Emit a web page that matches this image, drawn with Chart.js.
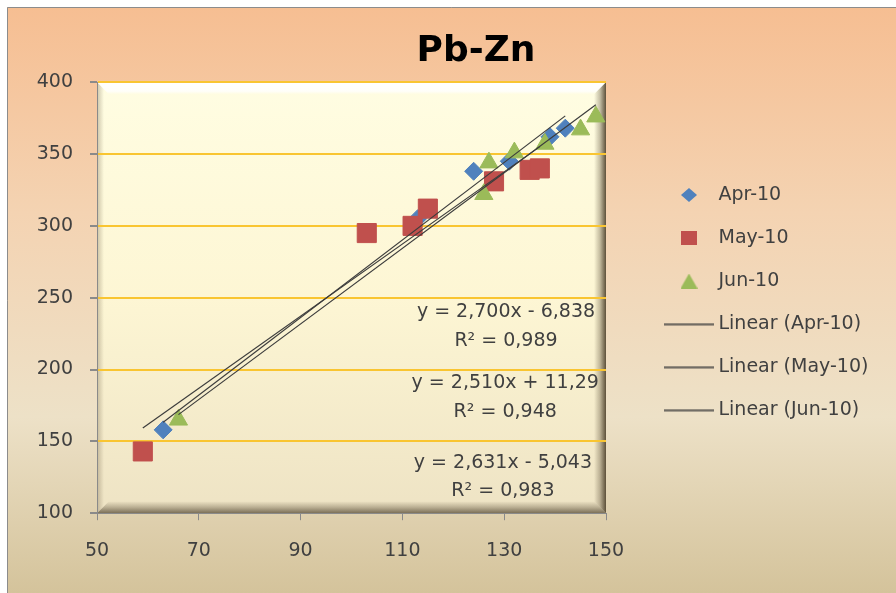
<!DOCTYPE html>
<html>
<head>
<meta charset="utf-8">
<title>Pb-Zn</title>
<script src="https://cdn.jsdelivr.net/npm/chart.js@4.4.1/dist/chart.umd.min.js"></script>
<style>
  html, body { margin: 0; padding: 0; background: #fff; }
  canvas { display: block; }
</style>
</head>
<body>
<canvas id="grafico" width="896" height="593"></canvas>
<script>
// valores
const aprX = [63, 113, 124, 131, 139, 142];
const aprY = [158, 305, 338, 345, 362, 368];
const mayX = [59, 103, 112, 115, 128, 135, 137];
const mayY = [143, 295, 300, 312, 331, 339, 340];
const junX = [66, 126, 127, 132, 138, 145, 148];
const junY = [165, 322, 344, 351, 357, 367, 376];

const seriesLabels = ['Apr-10', 'May-10', 'Jun-10'];

// lineas de tendencia, tal como las da la figura
const trendSlope = [2.700, 2.510, 2.631];
const trendIntercept = [-6.838, 11.29, -5.043];
const trendText = ['y = 2,700x - 6,838', 'y = 2,510x + 11,29', 'y = 2,631x - 5,043'];
const r2Text = ['R² = 0,989', 'R² = 0,948', 'R² = 0,983'];

const xTicks = [50, 70, 90, 110, 130, 150];
const yTicks = [100, 150, 200, 250, 300, 350, 400];

const colores = ['#4f81bd', '#c0504d', '#9bbb59'];
const colorTexto = '#404040';
const colorEje = '#8a8a8a';
const fuente = '"DejaVu Sans"';

Chart.defaults.font.family = fuente;

const puntos = (xs, ys) => xs.map((x, i) => ({ x: x, y: ys[i] }));

const tendencia = (xs, i) => {
    const x0 = Math.min(...xs);
    const x1 = Math.max(...xs);
    return [
        { x: x0, y: trendSlope[i] * x0 + trendIntercept[i] },
        { x: x1, y: trendSlope[i] * x1 + trendIntercept[i] }
    ];
};

// iconos de la leyenda
const icono = (w, h, dibujar) => {
    const c = document.createElement('canvas');
    c.width = w;
    c.height = h;
    dibujar(c.getContext('2d'), w, h);
    return c;
};
const poligono = (ctx, pts, color) => {
    ctx.fillStyle = color;
    ctx.beginPath();
    pts.forEach((p, i) => i ? ctx.lineTo(p[0], p[1]) : ctx.moveTo(p[0], p[1]));
    ctx.closePath();
    ctx.fill();
};
const iconoLinea = () => icono(50, 3, (ctx) => {
    ctx.fillStyle = '#3c3c3c';
    ctx.fillRect(0, 1, 50, 1.4);
});
const iconos = [
    icono(16, 14, (ctx) => poligono(ctx, [[8, 0], [16, 7], [8, 14], [0, 7]], colores[0])),
    icono(16, 14, (ctx) => { ctx.fillStyle = colores[1]; ctx.fillRect(0, 0, 16, 14); }),
    icono(17, 15, (ctx) => poligono(ctx, [[8.5, 0], [17, 15], [0, 15]], colores[2])),
    iconoLinea(),
    iconoLinea(),
    iconoLinea()
];

// ancho de la leyenda para que empiece en x = 645
const medida = document.createElement('canvas').getContext('2d');
medida.font = '19px ' + fuente;
const textoMasAncho = Math.max(...seriesLabels.map((s) => medida.measureText('Linear (' + s + ')').width));
const anchoLeyenda = 24 + 40 + 9.5 + textoMasAncho + 1;
const margenDerecho = Math.max(0, 896 - 645 - anchoLeyenda);

// fondo del grafico y del area de trazado (con bisel)
const fondo = {
    id: 'fondo',
    afterLayout(chart) {
        // el titulo va centrado en x = 476 como en la figura
        const tb = chart.titleBlock;
        if (tb) {
            const d = 476 - (tb.left + tb.right) / 2;
            tb.left += d;
            tb.right += d;
        }
    },
    beforeDraw(chart) {
        const { ctx, width, height, chartArea } = chart;
        ctx.save();
        ctx.fillStyle = '#ffffff';
        ctx.fillRect(0, 0, width, height);
        const g = ctx.createLinearGradient(0, 7, 0, height);
        g.addColorStop(0, '#f6be92');
        g.addColorStop(0.35, '#f4d3b2');
        g.addColorStop(0.7, '#ede1c7');
        g.addColorStop(1, '#d4c39b');
        ctx.fillStyle = g;
        ctx.fillRect(7, 7, width - 7, height - 7);
        ctx.strokeStyle = '#8c8c8c';
        ctx.lineWidth = 1;
        ctx.beginPath();
        ctx.moveTo(7.5, height);
        ctx.lineTo(7.5, 7.5);
        ctx.lineTo(width, 7.5);
        ctx.stroke();

        const l = chartArea.left, t = chartArea.top, r = chartArea.right, b = chartArea.bottom;
        const gi = ctx.createLinearGradient(0, t, 0, b);
        gi.addColorStop(0, '#fffde2');
        gi.addColorStop(0.5, '#fdf6d4');
        gi.addColorStop(1, '#eee3c4');
        ctx.fillStyle = gi;
        ctx.fillRect(l, t, r - l, b - t);

        const e = 12;
        let gb = ctx.createLinearGradient(0, t, 0, t + e);
        gb.addColorStop(0, 'rgba(255,255,255,1)');
        gb.addColorStop(0.75, 'rgba(255,255,255,0.8)');
        gb.addColorStop(1, 'rgba(255,255,255,0)');
        poligono(ctx, [[l, t], [r, t], [r - e, t + e], [l + e, t + e]], gb);

        gb = ctx.createLinearGradient(l, 0, l + 7, 0);
        gb.addColorStop(0, 'rgba(110,95,70,0.35)');
        gb.addColorStop(1, 'rgba(110,95,70,0)');
        poligono(ctx, [[l, t], [l + e, t + e], [l + e, b - e], [l, b]], gb);

        gb = ctx.createLinearGradient(r - e, 0, r, 0);
        gb.addColorStop(0, 'rgba(85,72,50,0)');
        gb.addColorStop(0.5, 'rgba(85,72,50,0.35)');
        gb.addColorStop(1, 'rgba(85,72,50,0.95)');
        poligono(ctx, [[r, t], [r, b], [r - e, b - e], [r - e, t + e]], gb);

        gb = ctx.createLinearGradient(0, b - e, 0, b);
        gb.addColorStop(0, 'rgba(110,98,75,0)');
        gb.addColorStop(0.5, 'rgba(110,98,75,0.4)');
        gb.addColorStop(1, 'rgba(110,98,75,0.9)');
        poligono(ctx, [[l, b], [r, b], [r - e, b - e], [l + e, b - e]], gb);
        ctx.restore();
    }
};

// ecuaciones y R² de las tendencias
const ecuaciones = {
    id: 'ecuaciones',
    afterDatasetsDraw(chart) {
        const { ctx } = chart;
        const sx = chart.scales.x, sy = chart.scales.y;
        const ancla = [[130.35, 240, 219.7], [130.2, 190.5, 170.3], [129.75, 134.8, 115.3]];
        ctx.save();
        ctx.font = '19px ' + fuente;
        ctx.fillStyle = colorTexto;
        ctx.textAlign = 'center';
        ctx.textBaseline = 'middle';
        trendText.forEach((txt, i) => {
            const px = sx.getPixelForValue(ancla[i][0]);
            ctx.fillText(txt, px, sy.getPixelForValue(ancla[i][1]));
            ctx.fillText(r2Text[i], px, sy.getPixelForValue(ancla[i][2]));
        });
        ctx.restore();
    }
};

const serie = (xs, ys, i, estilo, radio, orden) => ({
    label: seriesLabels[i],
    data: puntos(xs, ys),
    pointStyle: estilo,
    pointRadius: radio,
    backgroundColor: colores[i],
    borderColor: colores[i],
    borderWidth: 1,
    order: orden
});

const lineaTendencia = (xs, i) => ({
    label: 'Linear (' + seriesLabels[i] + ')',
    data: tendencia(xs, i),
    showLine: true,
    pointRadius: 0,
    borderColor: '#3c3c3c',
    borderWidth: 1.2,
    fill: false,
    order: i + 1
});

new Chart(document.getElementById('grafico'), {
    type: 'scatter',
    data: {
        datasets: [
            serie(aprX, aprY, 0, 'rectRot', 9, 6),
            serie(mayX, mayY, 1, 'rect', 13.5, 5),
            serie(junX, junY, 2, 'triangle', 10.5, 4),
            lineaTendencia(aprX, 0),
            lineaTendencia(mayX, 1),
            lineaTendencia(junX, 2)
        ]
    },
    options: {
        responsive: false,
        animation: false,
        events: [],
        layout: { padding: { left: 30, right: margenDerecho, top: 7, bottom: 12 } },
        scales: {
            x: {
                type: 'linear',
                position: 'bottom',
                min: xTicks[0],
                max: xTicks[xTicks.length - 1],
                ticks: {
                    stepSize: xTicks[1] - xTicks[0],
                    padding: 19,
                    color: colorTexto,
                    font: { size: 19 }
                },
                grid: { drawOnChartArea: false, tickLength: 7, tickColor: colorEje },
                border: { color: colorEje }
            },
            y: {
                type: 'linear',
                position: 'left',
                min: yTicks[0],
                max: yTicks[yTicks.length - 1],
                ticks: {
                    stepSize: yTicks[1] - yTicks[0],
                    padding: 17,
                    color: colorTexto,
                    font: { size: 19 }
                },
                grid: {
                    color: (c) => c.tick && c.tick.value === yTicks[0] ? 'rgba(0,0,0,0)' : '#f9c531',
                    lineWidth: 2,
                    tickLength: 7,
                    tickColor: colorEje
                },
                border: { color: colorEje },
                afterFit: (s) => { s.width = 67; }
            },
            espacio: {
                type: 'linear',
                position: 'right',
                display: true,
                ticks: { display: false },
                grid: { display: false },
                border: { display: false },
                afterFit: (s) => { s.width = 39; }
            }
        },
        plugins: {
            title: {
                display: true,
                text: 'Pb-Zn',
                color: '#000000',
                font: { size: 36, weight: 'bold' },
                padding: { top: 23, bottom: 9 }
            },
            legend: {
                position: 'right',
                fullSize: false,
                maxWidth: anchoLeyenda,
                title: { display: true, text: ' ', padding: 0, font: { size: 8 } },
                labels: {
                    usePointStyle: true,
                    pointStyleWidth: 40,
                    padding: 24,
                    color: colorTexto,
                    font: { size: 19 },
                    sort: (a, b) => a.datasetIndex - b.datasetIndex,
                    generateLabels: (chart) => {
                        const items = Chart.defaults.plugins.legend.labels.generateLabels(chart);
                        items.forEach((it) => { it.pointStyle = iconos[it.datasetIndex]; });
                        return items;
                    }
                }
            },
            tooltip: { enabled: false }
        }
    },
    plugins: [fondo, ecuaciones]
});
</script>
</body>
</html>
